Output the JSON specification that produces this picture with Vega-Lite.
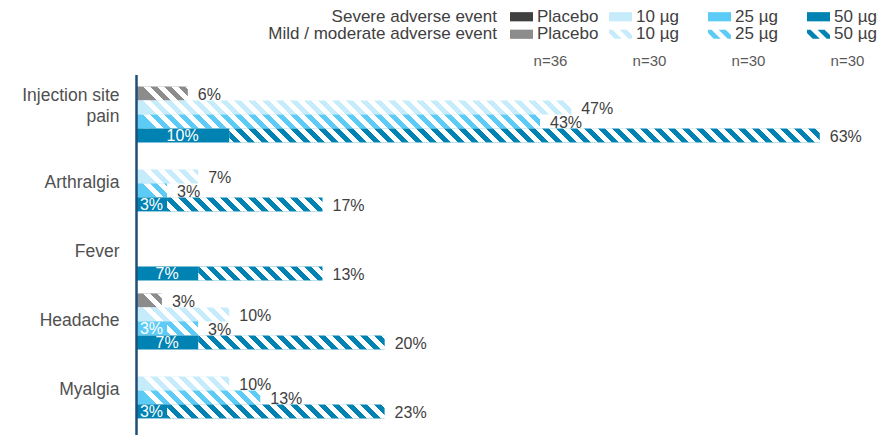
{
  "$schema": "https://vega.github.io/schema/vega-lite/v6.json",
  "background": "white",
  "padding": {"left": 21, "top": 7, "right": 5, "bottom": 0},
  "bounds": "flush",
  "spacing": 31.5,
  "config": {"view": {"stroke": null}, "font": "Liberation Sans"},
  "resolve": {"scale": {"color": "independent", "fill": "independent"}},
  "vconcat": [
    {
      "width": 746,
      "height": 35,
      "data": {"values": [
        {"group": "Placebo", "n": 36},
        {"group": "10 µg", "n": 30},
        {"group": "25 µg", "n": 30},
        {"group": "50 µg", "n": 30}
      ]},
      "encoding": {
        "x": {"field": "group", "type": "nominal", "scale": {"type": "point", "domain": ["Placebo", "10 µg", "25 µg", "50 µg"], "range": [385.5, 682.5], "padding": 0}, "axis": null}
      },
      "layer": [
        {
          "mark": {"type": "point", "filled": true, "opacity": 1, "size": 529, "shape": "M-1,-0.4H1V0.4H-1Z", "strokeWidth": 0},
          "encoding": {
            "y": {"datum": "Severe adverse event", "type": "nominal", "scale": {"type": "point", "domain": ["Severe adverse event", "Mild / moderate adverse event"], "padding": 0.5}, "axis": null},
            "color": {"field": "group", "type": "nominal", "scale": {"domain": ["Placebo", "10 µg", "25 µg", "50 µg"], "range": ["#404040", "#c6ecfb", "#5ccbf5", "#0083b3"]}, "legend": null}
          }
        },
        {
          "mark": {"type": "point", "filled": true, "opacity": 1, "size": 529, "strokeWidth": 0},
          "encoding": {
            "y": {"datum": "Mild / moderate adverse event", "type": "nominal"},
            "fill": {"field": "group", "type": "nominal", "scale": {"domain": ["Placebo", "10 µg", "25 µg", "50 µg"], "range": ["#8c8c8c", "#c6ecfb", "#5ccbf5", "#0083b3"]}, "legend": null},
            "shape": {"condition": {"test": "datum.group === 'Placebo'", "value": "M-1,-0.4H1V0.4H-1Z"}, "value": "M-1,-0.4L-0.69,-0.4L0.11,0.4L-0.5,0.4L-1,-0.1ZM-0.08,-0.4L0.53,-0.4L1,0.07L1,0.4L0.72,0.4Z"}
          }
        },
        {
          "mark": {"type": "text", "align": "left", "baseline": "middle", "dx": 15.5, "fontSize": 17, "color": "#404040"},
          "encoding": {
            "y": {"datum": "Severe adverse event", "type": "nominal"},
            "text": {"field": "group"}
          }
        },
        {
          "mark": {"type": "text", "align": "left", "baseline": "middle", "dx": 15.5, "fontSize": 17, "color": "#404040"},
          "encoding": {
            "y": {"datum": "Mild / moderate adverse event", "type": "nominal"},
            "text": {"field": "group"}
          }
        },
        {
          "mark": {"type": "text", "align": "center", "baseline": "middle", "dx": 29, "dy": 26.5, "fontSize": 15, "color": "#595959", "text": {"expr": "'n=' + datum.n"}},
          "encoding": {
            "y": {"datum": "Mild / moderate adverse event", "type": "nominal"}
          }
        },
        {
          "data": {"values": [{"row": "Severe adverse event"}, {"row": "Mild / moderate adverse event"}]},
          "mark": {"type": "text", "align": "right", "baseline": "middle", "dx": -24.5, "fontSize": 17, "color": "#404040"},
          "encoding": {
            "x": {"datum": "Placebo", "type": "nominal"},
            "y": {"field": "row", "type": "nominal"},
            "text": {"field": "row"}
          }
        }
      ]
    },
    {
      "width": 746,
      "height": 361,
      "data": {"values": [
        {"symptom": "Injection site pain", "group": "Placebo", "type": "mild", "value": 0.0556},
        {"symptom": "Injection site pain", "group": "10 µg", "type": "mild", "value": 0.4667},
        {"symptom": "Injection site pain", "group": "25 µg", "type": "mild", "value": 0.4333},
        {"symptom": "Injection site pain", "group": "50 µg", "type": "severe", "value": 0.1},
        {"symptom": "Injection site pain", "group": "50 µg", "type": "mild", "value": 0.6333},
        {"symptom": "Arthralgia", "group": "10 µg", "type": "mild", "value": 0.0667},
        {"symptom": "Arthralgia", "group": "25 µg", "type": "mild", "value": 0.0333},
        {"symptom": "Arthralgia", "group": "50 µg", "type": "severe", "value": 0.0333},
        {"symptom": "Arthralgia", "group": "50 µg", "type": "mild", "value": 0.1667},
        {"symptom": "Fever", "group": "50 µg", "type": "severe", "value": 0.0667},
        {"symptom": "Fever", "group": "50 µg", "type": "mild", "value": 0.1333},
        {"symptom": "Headache", "group": "Placebo", "type": "mild", "value": 0.0278},
        {"symptom": "Headache", "group": "10 µg", "type": "mild", "value": 0.1},
        {"symptom": "Headache", "group": "25 µg", "type": "severe", "value": 0.0333},
        {"symptom": "Headache", "group": "25 µg", "type": "mild", "value": 0.0333},
        {"symptom": "Headache", "group": "50 µg", "type": "severe", "value": 0.0667},
        {"symptom": "Headache", "group": "50 µg", "type": "mild", "value": 0.2},
        {"symptom": "Myalgia", "group": "10 µg", "type": "mild", "value": 0.1},
        {"symptom": "Myalgia", "group": "25 µg", "type": "mild", "value": 0.1333},
        {"symptom": "Myalgia", "group": "50 µg", "type": "severe", "value": 0.0333},
        {"symptom": "Myalgia", "group": "50 µg", "type": "mild", "value": 0.2333}
      ]},
      "transform": [
        {"stack": "value", "groupby": ["symptom", "group"], "sort": [{"field": "type", "order": "descending"}], "as": ["v0", "v1"]}
      ],
      "encoding": {
        "y": {
          "field": "symptom", "type": "nominal",
          "scale": {"domain": ["Injection site pain", "Arthralgia", "Fever", "Headache", "Myalgia"], "paddingInner": 0.188, "paddingOuter": 0.21, "align": 0.41},
          "axis": {
            "title": null, "ticks": false, "tickSize": 0, "labelPadding": 17, "labelFontSize": 17.5, "labelColor": "#505050", "labelFont": "Liberation Sans",
            "labelExpr": "datum.value == 'Injection site pain' ? ['Injection site', 'pain'] : datum.label",
            "labelOffset": {"condition": {"test": "datum.value == 'Injection site pain'", "value": -18}, "value": 0},
            "labelLineHeight": 21, "domainColor": "#1f4e79", "domainWidth": 2.5, "zindex": 1, "grid": false
          }
        },
        "yOffset": {"field": "group", "type": "nominal", "scale": {"domain": ["Placebo", "10 µg", "25 µg", "50 µg"], "paddingInner": 0, "paddingOuter": 0}}
      },
      "resolve": {"scale": {"x": "independent"}},
      "layer": [
        {
          "transform": [{"filter": "datum.type === 'mild'"}],
          "mark": {"type": "bar"},
          "encoding": {
            "x": {"field": "v0", "type": "quantitative", "scale": {"domain": [0, 0.8], "nice": false}, "axis": null},
            "x2": {"field": "v1"},
            "color": {"field": "group", "type": "nominal", "scale": {"domain": ["Placebo", "10 µg", "25 µg", "50 µg"], "range": ["#8c8c8c", "#c6ecfb", "#5ccbf5", "#0083b3"]}, "legend": null}
          }
        },
        {
          "transform": [{"filter": "datum.type === 'mild'"}],
          "mark": {"type": "bar", "fill": {"gradient": "linear", "x1": 0, "y1": 0, "x2": 1, "y2": -0.02, "stops": [
            {"offset": 0, "color": "transparent"},
            {"offset": 0.01, "color": "transparent"}, {"offset": 0.01, "color": "#fff"},
            {"offset": 0.02, "color": "#fff"}, {"offset": 0.02, "color": "transparent"},
            {"offset": 0.03, "color": "transparent"}, {"offset": 0.03, "color": "#fff"},
            {"offset": 0.04, "color": "#fff"}, {"offset": 0.04, "color": "transparent"},
            {"offset": 0.05, "color": "transparent"}, {"offset": 0.05, "color": "#fff"},
            {"offset": 0.06, "color": "#fff"}, {"offset": 0.06, "color": "transparent"},
            {"offset": 0.07, "color": "transparent"}, {"offset": 0.07, "color": "#fff"},
            {"offset": 0.08, "color": "#fff"}, {"offset": 0.08, "color": "transparent"},
            {"offset": 0.09, "color": "transparent"}, {"offset": 0.09, "color": "#fff"},
            {"offset": 0.10, "color": "#fff"}, {"offset": 0.10, "color": "transparent"},
            {"offset": 0.11, "color": "transparent"}, {"offset": 0.11, "color": "#fff"},
            {"offset": 0.12, "color": "#fff"}, {"offset": 0.12, "color": "transparent"},
            {"offset": 0.13, "color": "transparent"}, {"offset": 0.13, "color": "#fff"},
            {"offset": 0.14, "color": "#fff"}, {"offset": 0.14, "color": "transparent"},
            {"offset": 0.15, "color": "transparent"}, {"offset": 0.15, "color": "#fff"},
            {"offset": 0.16, "color": "#fff"}, {"offset": 0.16, "color": "transparent"},
            {"offset": 0.17, "color": "transparent"}, {"offset": 0.17, "color": "#fff"},
            {"offset": 0.18, "color": "#fff"}, {"offset": 0.18, "color": "transparent"},
            {"offset": 0.19, "color": "transparent"}, {"offset": 0.19, "color": "#fff"},
            {"offset": 0.20, "color": "#fff"}, {"offset": 0.20, "color": "transparent"},
            {"offset": 0.21, "color": "transparent"}, {"offset": 0.21, "color": "#fff"},
            {"offset": 0.22, "color": "#fff"}, {"offset": 0.22, "color": "transparent"},
            {"offset": 0.23, "color": "transparent"}, {"offset": 0.23, "color": "#fff"},
            {"offset": 0.24, "color": "#fff"}, {"offset": 0.24, "color": "transparent"},
            {"offset": 0.25, "color": "transparent"}, {"offset": 0.25, "color": "#fff"},
            {"offset": 0.26, "color": "#fff"}, {"offset": 0.26, "color": "transparent"},
            {"offset": 0.27, "color": "transparent"}, {"offset": 0.27, "color": "#fff"},
            {"offset": 0.28, "color": "#fff"}, {"offset": 0.28, "color": "transparent"},
            {"offset": 0.29, "color": "transparent"}, {"offset": 0.29, "color": "#fff"},
            {"offset": 0.30, "color": "#fff"}, {"offset": 0.30, "color": "transparent"},
            {"offset": 0.31, "color": "transparent"}, {"offset": 0.31, "color": "#fff"},
            {"offset": 0.32, "color": "#fff"}, {"offset": 0.32, "color": "transparent"},
            {"offset": 0.33, "color": "transparent"}, {"offset": 0.33, "color": "#fff"},
            {"offset": 0.34, "color": "#fff"}, {"offset": 0.34, "color": "transparent"},
            {"offset": 0.35, "color": "transparent"}, {"offset": 0.35, "color": "#fff"},
            {"offset": 0.36, "color": "#fff"}, {"offset": 0.36, "color": "transparent"},
            {"offset": 0.37, "color": "transparent"}, {"offset": 0.37, "color": "#fff"},
            {"offset": 0.38, "color": "#fff"}, {"offset": 0.38, "color": "transparent"},
            {"offset": 0.39, "color": "transparent"}, {"offset": 0.39, "color": "#fff"},
            {"offset": 0.40, "color": "#fff"}, {"offset": 0.40, "color": "transparent"},
            {"offset": 0.41, "color": "transparent"}, {"offset": 0.41, "color": "#fff"},
            {"offset": 0.42, "color": "#fff"}, {"offset": 0.42, "color": "transparent"},
            {"offset": 0.43, "color": "transparent"}, {"offset": 0.43, "color": "#fff"},
            {"offset": 0.44, "color": "#fff"}, {"offset": 0.44, "color": "transparent"},
            {"offset": 0.45, "color": "transparent"}, {"offset": 0.45, "color": "#fff"},
            {"offset": 0.46, "color": "#fff"}, {"offset": 0.46, "color": "transparent"},
            {"offset": 0.47, "color": "transparent"}, {"offset": 0.47, "color": "#fff"},
            {"offset": 0.48, "color": "#fff"}, {"offset": 0.48, "color": "transparent"},
            {"offset": 0.49, "color": "transparent"}, {"offset": 0.49, "color": "#fff"},
            {"offset": 0.50, "color": "#fff"}, {"offset": 0.50, "color": "transparent"},
            {"offset": 0.51, "color": "transparent"}, {"offset": 0.51, "color": "#fff"},
            {"offset": 0.52, "color": "#fff"}, {"offset": 0.52, "color": "transparent"},
            {"offset": 0.53, "color": "transparent"}, {"offset": 0.53, "color": "#fff"},
            {"offset": 0.54, "color": "#fff"}, {"offset": 0.54, "color": "transparent"},
            {"offset": 0.55, "color": "transparent"}, {"offset": 0.55, "color": "#fff"},
            {"offset": 0.56, "color": "#fff"}, {"offset": 0.56, "color": "transparent"},
            {"offset": 0.57, "color": "transparent"}, {"offset": 0.57, "color": "#fff"},
            {"offset": 0.58, "color": "#fff"}, {"offset": 0.58, "color": "transparent"},
            {"offset": 0.59, "color": "transparent"}, {"offset": 0.59, "color": "#fff"},
            {"offset": 0.60, "color": "#fff"}, {"offset": 0.60, "color": "transparent"},
            {"offset": 0.61, "color": "transparent"}, {"offset": 0.61, "color": "#fff"},
            {"offset": 0.62, "color": "#fff"}, {"offset": 0.62, "color": "transparent"},
            {"offset": 0.63, "color": "transparent"}, {"offset": 0.63, "color": "#fff"},
            {"offset": 0.64, "color": "#fff"}, {"offset": 0.64, "color": "transparent"},
            {"offset": 0.65, "color": "transparent"}, {"offset": 0.65, "color": "#fff"},
            {"offset": 0.66, "color": "#fff"}, {"offset": 0.66, "color": "transparent"},
            {"offset": 0.67, "color": "transparent"}, {"offset": 0.67, "color": "#fff"},
            {"offset": 0.68, "color": "#fff"}, {"offset": 0.68, "color": "transparent"},
            {"offset": 0.69, "color": "transparent"}, {"offset": 0.69, "color": "#fff"},
            {"offset": 0.70, "color": "#fff"}, {"offset": 0.70, "color": "transparent"},
            {"offset": 0.71, "color": "transparent"}, {"offset": 0.71, "color": "#fff"},
            {"offset": 0.72, "color": "#fff"}, {"offset": 0.72, "color": "transparent"},
            {"offset": 0.73, "color": "transparent"}, {"offset": 0.73, "color": "#fff"},
            {"offset": 0.74, "color": "#fff"}, {"offset": 0.74, "color": "transparent"},
            {"offset": 0.75, "color": "transparent"}, {"offset": 0.75, "color": "#fff"},
            {"offset": 0.76, "color": "#fff"}, {"offset": 0.76, "color": "transparent"},
            {"offset": 0.77, "color": "transparent"}, {"offset": 0.77, "color": "#fff"},
            {"offset": 0.78, "color": "#fff"}, {"offset": 0.78, "color": "transparent"},
            {"offset": 0.79, "color": "transparent"}, {"offset": 0.79, "color": "#fff"},
            {"offset": 0.80, "color": "#fff"}, {"offset": 0.80, "color": "transparent"},
            {"offset": 0.81, "color": "transparent"}, {"offset": 0.81, "color": "#fff"},
            {"offset": 0.82, "color": "#fff"}, {"offset": 0.82, "color": "transparent"},
            {"offset": 0.83, "color": "transparent"}, {"offset": 0.83, "color": "#fff"},
            {"offset": 0.84, "color": "#fff"}, {"offset": 0.84, "color": "transparent"},
            {"offset": 0.85, "color": "transparent"}, {"offset": 0.85, "color": "#fff"},
            {"offset": 0.86, "color": "#fff"}, {"offset": 0.86, "color": "transparent"},
            {"offset": 0.87, "color": "transparent"}, {"offset": 0.87, "color": "#fff"},
            {"offset": 0.88, "color": "#fff"}, {"offset": 0.88, "color": "transparent"},
            {"offset": 0.89, "color": "transparent"}, {"offset": 0.89, "color": "#fff"},
            {"offset": 0.90, "color": "#fff"}, {"offset": 0.90, "color": "transparent"},
            {"offset": 0.91, "color": "transparent"}, {"offset": 0.91, "color": "#fff"},
            {"offset": 0.92, "color": "#fff"}, {"offset": 0.92, "color": "transparent"},
            {"offset": 0.93, "color": "transparent"}, {"offset": 0.93, "color": "#fff"},
            {"offset": 0.94, "color": "#fff"}, {"offset": 0.94, "color": "transparent"},
            {"offset": 0.95, "color": "transparent"}, {"offset": 0.95, "color": "#fff"},
            {"offset": 0.96, "color": "#fff"}, {"offset": 0.96, "color": "transparent"},
            {"offset": 0.97, "color": "transparent"}, {"offset": 0.97, "color": "#fff"},
            {"offset": 0.98, "color": "#fff"}, {"offset": 0.98, "color": "transparent"},
            {"offset": 0.99, "color": "transparent"}, {"offset": 0.99, "color": "#fff"},
            {"offset": 1, "color": "#fff"}
          ]}},
          "encoding": {
            "x": {"datum": 0, "type": "quantitative", "scale": {"domain": [0, 0.8], "nice": false}, "axis": null},
            "x2": {"datum": 0.75}
          }
        },
        {
          "transform": [{"filter": "datum.type === 'severe'"}],
          "mark": {"type": "bar"},
          "encoding": {
            "x": {"field": "v0", "type": "quantitative", "scale": {"domain": [0, 0.8], "nice": false}, "axis": null},
            "x2": {"field": "v1"},
            "color": {"field": "group", "type": "nominal", "scale": {"domain": ["Placebo", "10 µg", "25 µg", "50 µg"], "range": ["#404040", "#c6ecfb", "#5ccbf5", "#0083b3"]}, "legend": null}
          }
        },
        {
          "transform": [{"filter": "datum.type === 'severe'"}],
          "mark": {"type": "text", "align": "center", "baseline": "middle", "dy": 1, "fontSize": 16, "color": "white"},
          "encoding": {
            "x": {"field": "value", "type": "quantitative", "scale": {"domain": [0, 1.6], "nice": false}, "axis": null},
            "text": {"field": "value", "type": "quantitative", "format": ".0%"}
          }
        },
        {
          "transform": [{"filter": "datum.type === 'mild'"}],
          "mark": {"type": "text", "align": "left", "baseline": "middle", "dx": 10, "dy": 2, "fontSize": 16, "color": "#404040"},
          "encoding": {
            "x": {"field": "v1", "type": "quantitative", "scale": {"domain": [0, 0.8], "nice": false}, "axis": null},
            "text": {"field": "value", "type": "quantitative", "format": ".0%"}
          }
        }
      ]
    }
  ]
}
